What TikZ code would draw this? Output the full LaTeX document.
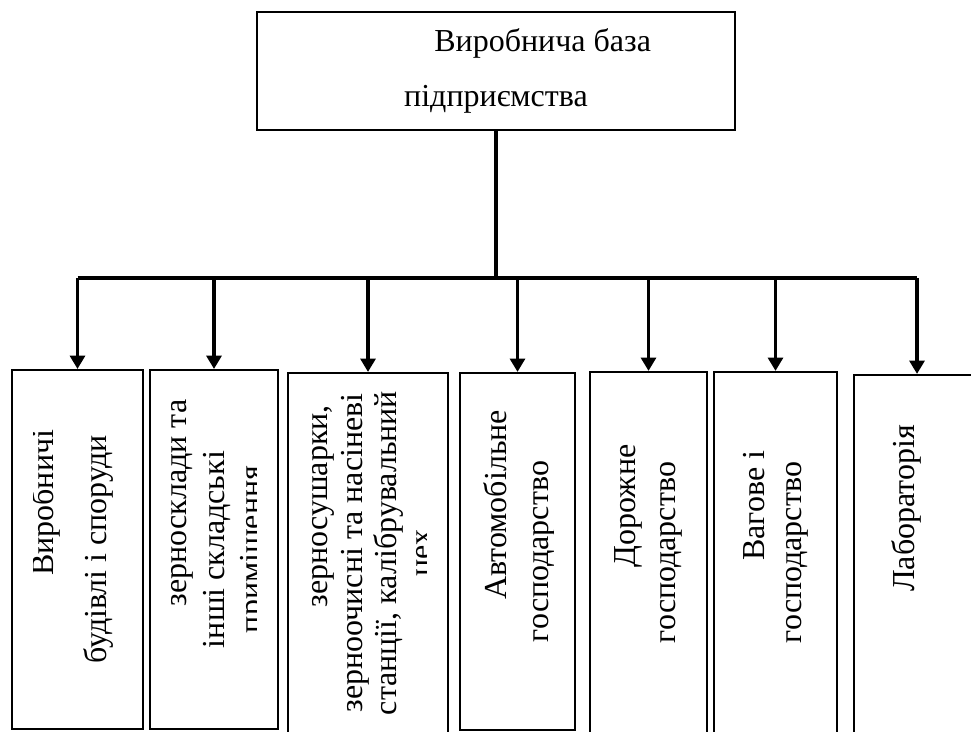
\documentclass[tikz,border=0pt]{standalone}
\usepackage{fontspec}
\setmainfont{Liberation Serif}
\usetikzlibrary{arrows.meta,calc}
\tikzset{
  headbox/.style={draw, line width=0.7pt, align=center, inner sep=0pt, minimum width=179.25pt, minimum height=44.25pt, font=\fontsize{12pt}{20.6pt}\selectfont},
  % box with clipped, rotated text: line spacing / shift / text
  unit/.style n args={3}{draw, line width=0.8pt, inner sep=0pt, path picture={
    \clip ([xshift=8pt,yshift=-4pt]path picture bounding box.north west) rectangle ([xshift=-8pt,yshift=4pt]path picture bounding box.south east);
    \node[draw=none, rotate=90, align=center, inner sep=0pt, font=\fontsize{12pt}{#1}\selectfont] at ([xshift=#2]path picture bounding box.center) {#3};}},
  link/.style={line width=1.2pt},
  arrow/.style={link, -{Triangle[width=5.6pt,length=5pt]}}
}
\begin{document}
\begin{tikzpicture}[x=0.375pt, y=-0.375pt]
\useasboundingbox (0,0) rectangle (971,731);
\clip (0,0) rectangle (971,731);
\node[headbox] (base) at (496,71) {\hspace*{35pt}Виробнича база\\підприємства};
\node[unit={20pt}{-2pt}{\hspace*{35pt}Виробничі\\будівлі і споруди}, minimum width=49.1pt, minimum height=134.6pt] (b1) at (77.5,549.5) {};
\node[unit={14pt}{2.3pt}{\hspace*{35pt}зерносклади та\\інші складські\\приміщення}, minimum width=48pt, minimum height=134.6pt] (b2) at (214,549.5) {};
\node[unit={13pt}{2.6pt}{\hspace*{35pt}зерносушарки,\\зерноочисні та насіневі\\станції, калібрувальний\\цех}, minimum width=60pt, minimum height=135pt] (b3) at (368,553) {};
\node[unit={15.5pt}{0.75pt}{\hspace*{35pt}Автомобільне\\господарство}, minimum width=43.1pt, minimum height=133.9pt] (b4) at (517.5,551.5) {};
\node[unit={15pt}{0pt}{\hspace*{35pt}Дорожне\\господарство}, minimum width=43.9pt, minimum height=135.4pt] (b5) at (648.5,552.5) {};
\node[unit={14pt}{0pt}{\hspace*{35pt}Вагове і\\господарство}, minimum width=46.1pt, minimum height=135.4pt] (b6) at (775.5,552.5) {};
\node[unit={15pt}{-4pt}{\hspace*{35pt}Лабораторія}, minimum width=47.25pt, minimum height=135pt] (b7) at (917,555) {};
\coordinate (hub) at (496,278);
\draw[link] (base) -- (hub);
\draw[link] (b1.north |- hub) -- (b7.north |- hub);
\foreach \b in {b1,b2,b3,b4,b5,b6,b7} \draw[arrow] (\b.north |- hub) -- (\b.north);
\end{tikzpicture}
\end{document}
